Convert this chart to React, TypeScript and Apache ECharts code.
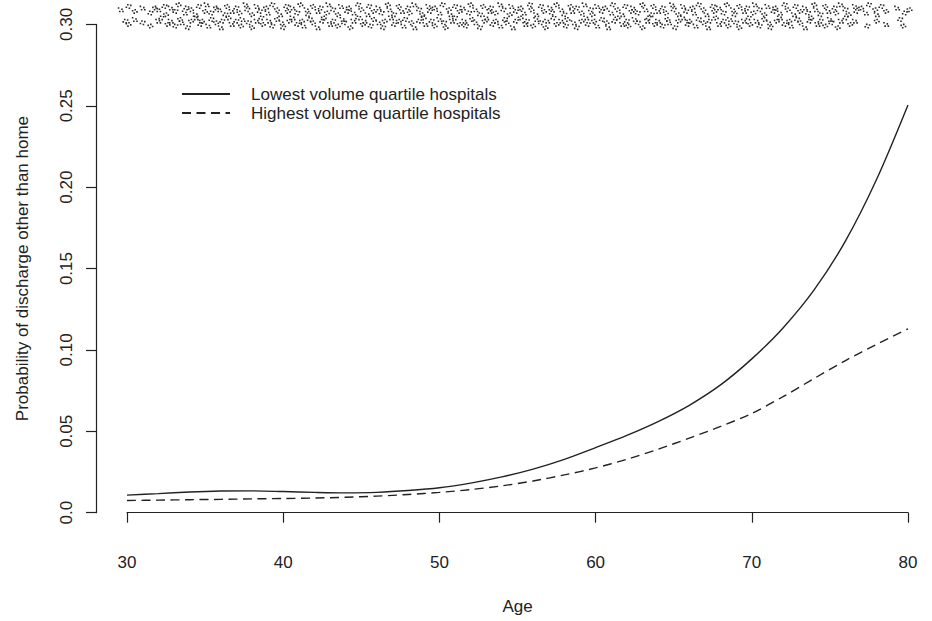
import React, { useEffect, useRef } from "react";
import * as echarts from "echarts";

const ages = [30, 32, 34, 36, 38, 40, 42, 44, 46, 48, 50, 52, 54, 56, 58, 60, 62, 64, 66, 68, 70, 72, 74, 76, 78, 80];
const lowestVolume = [0.0108, 0.0117, 0.0127, 0.0133, 0.0134, 0.013, 0.0125, 0.0122, 0.0125, 0.0136, 0.0153, 0.0182, 0.022, 0.0268, 0.0328, 0.04, 0.0475, 0.056, 0.066, 0.0785, 0.0945, 0.1135, 0.137, 0.167, 0.205, 0.2505];
const highestVolume = [0.0075, 0.0077, 0.008, 0.0082, 0.0085, 0.0087, 0.009, 0.0095, 0.0102, 0.0112, 0.0125, 0.0142, 0.0165, 0.0195, 0.0232, 0.0275, 0.0328, 0.039, 0.0458, 0.053, 0.061, 0.0713, 0.0825, 0.0935, 0.1035, 0.113];

const xTicks = [30, 40, 50, 60, 70, 80];
const yTickLabels = ["0.0", "0.05", "0.10", "0.15", "0.20", "0.25", "0.30"];
const seriesNames = ["Lowest volume quartile hospitals", "Highest volume quartile hospitals"];

// rug of observed ages (jittered), two rows at the top of the panel
const rugUpper: number[][] = [
  [29.6, 0.309], [30.1, 0.311], [30.5, 0.308], [31.0, 0.31], [31.5, 0.307], [31.8, 0.31], [32.0, 0.309], [32.4, 0.311],
  [32.5, 0.306], [32.8, 0.31], [33.1, 0.308], [33.3, 0.312], [33.7, 0.307], [33.8, 0.31], [34.1, 0.309], [34.4, 0.306],
  [34.6, 0.311], [35.0, 0.308], [35.1, 0.312], [35.4, 0.307], [35.7, 0.31], [35.9, 0.309], [36.3, 0.306], [36.4, 0.311],
  [36.7, 0.308], [37.0, 0.31], [37.2, 0.307], [37.6, 0.312], [37.7, 0.309], [38.0, 0.306], [38.3, 0.311], [38.5, 0.308],
  [38.9, 0.31], [39.0, 0.307], [39.3, 0.312], [39.6, 0.309], [39.8, 0.306], [40.2, 0.311], [40.3, 0.308], [40.6, 0.31],
  [40.9, 0.307], [41.1, 0.312], [41.5, 0.309], [41.6, 0.306], [41.9, 0.311], [42.2, 0.308], [42.4, 0.31], [42.8, 0.307],
  [42.9, 0.312], [43.2, 0.309], [43.5, 0.306], [43.7, 0.311], [44.1, 0.308], [44.2, 0.31], [44.5, 0.307], [44.8, 0.312],
  [45.0, 0.309], [45.4, 0.306], [45.5, 0.311], [45.8, 0.308], [46.1, 0.31], [46.3, 0.307], [46.7, 0.312], [46.8, 0.309],
  [47.1, 0.306], [47.4, 0.311], [47.6, 0.308], [48.0, 0.31], [48.1, 0.307], [48.4, 0.312], [48.7, 0.309], [48.9, 0.306],
  [49.3, 0.311], [49.4, 0.308], [49.7, 0.31], [50.0, 0.307], [50.2, 0.312], [50.6, 0.309], [50.7, 0.306], [51.0, 0.311],
  [51.3, 0.308], [51.5, 0.31], [51.9, 0.307], [52.0, 0.312], [52.3, 0.309], [52.6, 0.306], [52.8, 0.311], [53.2, 0.308],
  [53.3, 0.31], [53.6, 0.307], [53.9, 0.312], [54.1, 0.309], [54.5, 0.306], [54.6, 0.311], [54.9, 0.308], [55.2, 0.31],
  [55.4, 0.307], [55.8, 0.312], [55.9, 0.309], [56.2, 0.306], [56.5, 0.311], [56.7, 0.308], [57.1, 0.31], [57.2, 0.307],
  [57.5, 0.312], [57.8, 0.309], [58.0, 0.306], [58.4, 0.311], [58.5, 0.308], [58.8, 0.31], [59.1, 0.307], [59.3, 0.312],
  [59.7, 0.309], [59.8, 0.306], [60.1, 0.311], [60.4, 0.308], [60.6, 0.31], [61.0, 0.307], [61.1, 0.312], [61.4, 0.309],
  [61.7, 0.306], [61.9, 0.311], [62.3, 0.308], [62.4, 0.31], [62.7, 0.307], [63.0, 0.312], [63.2, 0.309], [63.6, 0.306],
  [63.7, 0.311], [64.0, 0.308], [64.3, 0.31], [64.5, 0.307], [64.9, 0.312], [65.0, 0.309], [65.3, 0.306], [65.6, 0.311],
  [65.8, 0.308], [66.2, 0.31], [66.3, 0.307], [66.6, 0.312], [66.9, 0.309], [67.1, 0.306], [67.5, 0.311], [67.6, 0.308],
  [67.9, 0.31], [68.2, 0.307], [68.4, 0.312], [68.8, 0.309], [68.9, 0.306], [69.2, 0.311], [69.5, 0.308], [69.7, 0.31],
  [70.1, 0.307], [70.2, 0.312], [70.5, 0.309], [70.8, 0.306], [71.0, 0.311], [71.4, 0.308], [71.5, 0.31], [71.8, 0.307],
  [72.1, 0.312], [72.3, 0.309], [72.7, 0.306], [72.8, 0.311], [73.1, 0.308], [73.4, 0.31], [73.6, 0.307], [74.0, 0.312],
  [74.1, 0.309], [74.4, 0.306], [74.7, 0.311], [74.9, 0.308], [75.3, 0.31], [75.4, 0.307], [75.7, 0.312], [76.0, 0.309],
  [76.2, 0.306], [76.6, 0.311], [76.7, 0.308], [77.0, 0.31], [77.3, 0.307], [77.5, 0.312], [77.9, 0.309], [78.0, 0.306],
  [78.3, 0.311], [78.6, 0.308], [79.3, 0.31], [79.8, 0.307], [80.1, 0.309]
];
const rugLower: number[][] = [
  [29.9, 0.302], [30.1, 0.3], [30.5, 0.303], [31.0, 0.301], [31.5, 0.299], [32.0, 0.302], [32.2, 0.304], [32.6, 0.3],
  [32.8, 0.302], [33.1, 0.299], [33.4, 0.303], [33.5, 0.301], [33.9, 0.298], [34.1, 0.302], [34.4, 0.304], [34.7, 0.3],
  [34.8, 0.302], [35.2, 0.299], [35.4, 0.303], [35.7, 0.301], [36.0, 0.298], [36.1, 0.302], [36.5, 0.304], [36.7, 0.3],
  [37.0, 0.302], [37.3, 0.299], [37.4, 0.303], [37.8, 0.301], [38.0, 0.298], [38.3, 0.302], [38.6, 0.304], [38.7, 0.3],
  [39.1, 0.302], [39.3, 0.299], [39.6, 0.303], [39.9, 0.301], [40.0, 0.298], [40.4, 0.302], [40.6, 0.304], [40.9, 0.3],
  [41.2, 0.302], [41.3, 0.299], [41.7, 0.303], [41.9, 0.301], [42.2, 0.298], [42.5, 0.302], [42.6, 0.304], [43.0, 0.3],
  [43.2, 0.302], [43.5, 0.299], [43.8, 0.303], [43.9, 0.301], [44.3, 0.298], [44.5, 0.302], [44.8, 0.304], [45.1, 0.3],
  [45.2, 0.302], [45.6, 0.299], [45.8, 0.303], [46.1, 0.301], [46.4, 0.298], [46.5, 0.302], [46.9, 0.304], [47.1, 0.3],
  [47.4, 0.302], [47.7, 0.299], [47.8, 0.303], [48.2, 0.301], [48.4, 0.298], [48.7, 0.302], [49.0, 0.304], [49.1, 0.3],
  [49.5, 0.302], [49.7, 0.299], [50.0, 0.303], [50.3, 0.301], [50.4, 0.298], [50.8, 0.302], [51.0, 0.304], [51.3, 0.3],
  [51.6, 0.302], [51.7, 0.299], [52.1, 0.303], [52.3, 0.301], [52.6, 0.298], [52.9, 0.302], [53.0, 0.304], [53.4, 0.3],
  [53.6, 0.302], [53.9, 0.299], [54.2, 0.303], [54.3, 0.301], [54.7, 0.298], [54.9, 0.302], [55.2, 0.304], [55.5, 0.3],
  [55.6, 0.302], [56.0, 0.299], [56.2, 0.303], [56.5, 0.301], [56.8, 0.298], [56.9, 0.302], [57.3, 0.304], [57.5, 0.3],
  [57.8, 0.302], [58.1, 0.299], [58.2, 0.303], [58.6, 0.301], [58.8, 0.298], [59.1, 0.302], [59.4, 0.304], [59.5, 0.3],
  [59.9, 0.302], [60.1, 0.299], [60.4, 0.303], [60.7, 0.301], [60.8, 0.298], [61.2, 0.302], [61.4, 0.304], [61.7, 0.3],
  [62.0, 0.302], [62.1, 0.299], [62.5, 0.303], [62.7, 0.301], [63.0, 0.298], [63.3, 0.302], [63.4, 0.304], [63.8, 0.3],
  [64.0, 0.302], [64.3, 0.299], [64.6, 0.303], [64.7, 0.301], [65.1, 0.298], [65.3, 0.302], [65.6, 0.304], [65.9, 0.3],
  [66.0, 0.302], [66.4, 0.299], [66.6, 0.303], [66.9, 0.301], [67.2, 0.298], [67.3, 0.302], [67.7, 0.304], [67.9, 0.3],
  [68.2, 0.302], [68.5, 0.299], [68.6, 0.303], [69.0, 0.301], [69.2, 0.298], [69.5, 0.302], [69.8, 0.304], [69.9, 0.3],
  [70.3, 0.302], [70.5, 0.299], [70.8, 0.303], [71.1, 0.301], [71.2, 0.298], [71.6, 0.302], [71.8, 0.304], [72.1, 0.3],
  [72.4, 0.302], [72.5, 0.299], [72.9, 0.303], [73.1, 0.301], [73.4, 0.298], [73.7, 0.302], [73.8, 0.304], [74.2, 0.3],
  [74.4, 0.302], [74.7, 0.299], [75.0, 0.303], [75.1, 0.301], [75.5, 0.298], [75.7, 0.302], [76.0, 0.304], [76.3, 0.3],
  [76.6, 0.302], [77.4, 0.299], [78.0, 0.302], [78.6, 0.3], [79.5, 0.303], [79.7, 0.299]
];

// small speckle marks used for the jittered rug points
const speckA = "path://M0,0h1.6v1.6h-1.6z M3.4,1.2h1.6v1.6h-1.6z M1.2,3.4h1.6v1.6h-1.6z M4.4,3.4h1.6v1.6h-1.6z";
const speckB = "path://M1.5,0h1.6v1.6h-1.6z M4.4,0.6h1.6v1.6h-1.6z M0,2.4h1.6v1.6h-1.6z M3,3.4h1.6v1.6h-1.6z";
const speckC = "path://M0,1h1.6v1.6h-1.6z M2.6,0h1.6v1.6h-1.6z M4.4,2.2h1.6v1.6h-1.6z M1.6,3.4h1.6v1.6h-1.6z";
const specks = [speckA, speckB, speckC];

const FONT = "'Liberation Sans', Arial, Helvetica, sans-serif";
const INK = "#222";

export default function App() {
  const ref = useRef<HTMLDivElement>(null);
  useEffect(() => {
    if (!ref.current) return;
    const chart = echarts.init(ref.current, undefined, { renderer: "svg" });
    const line = (vals: number[]) => ages.map((a, i) => [a, vals[i]]);
    const rug = (pts: number[][], shift: number) =>
      pts.map((p, i) => ({ value: p, symbol: specks[(i + shift) % 3] }));
    const rugSeries = (pts: number[][], shift: number) => ({
      type: "scatter",
      data: rug(pts, shift),
      symbolSize: [6, 5],
      clip: false,
      silent: true,
      itemStyle: { color: "#2a2a2a", opacity: 1 },
    });
    chart.setOption({
      animation: false,
      backgroundColor: "#fff",
      textStyle: { fontFamily: FONT, color: INK },
      grid: { left: 127, right: 24, top: 24.4, bottom: 108.3 },
      legend: {
        data: seriesNames,
        orient: "vertical",
        left: 181,
        top: 85.5,
        padding: 0,
        itemWidth: 48,
        itemHeight: 17,
        itemGap: 2,
        itemStyle: { opacity: 0, borderWidth: 0 },
        textStyle: { fontFamily: FONT, fontSize: 17, color: INK, padding: [0, 0, 0, 16] },
      },
      xAxis: {
        type: "value",
        min: 30,
        max: 80,
        interval: 10,
        offset: 19.3,
        name: "Age",
        nameLocation: "middle",
        nameGap: 66,
        nameTextStyle: { fontFamily: FONT, fontSize: 17, color: INK },
        axisLine: { show: true, lineStyle: { color: INK, width: 1.2 } },
        axisTick: { show: true, length: 10, lineStyle: { color: INK, width: 1.2 } },
        axisLabel: {
          fontFamily: FONT,
          fontSize: 17,
          color: INK,
          margin: 22,
          formatter: (v: number) => (xTicks.includes(Math.round(v)) ? String(Math.round(v)) : ""),
        },
        splitLine: { show: false },
      },
      yAxis: {
        type: "value",
        min: 0,
        max: 0.3,
        interval: 0.05,
        offset: 31,
        name: "Probability of discharge other than home",
        nameLocation: "middle",
        nameGap: 65,
        nameTextStyle: { fontFamily: FONT, fontSize: 17, color: INK },
        axisLine: { show: true, lineStyle: { color: INK, width: 1.2 } },
        axisTick: { show: true, length: 10, lineStyle: { color: INK, width: 1.2 } },
        axisLabel: {
          fontFamily: FONT,
          fontSize: 17,
          color: INK,
          rotate: 90,
          align: "center",
          verticalAlign: "bottom",
          margin: 21,
          formatter: (v: number) => yTickLabels[Math.round(v / 0.05)] ?? "",
        },
        splitLine: { show: false },
      },
      series: [
        {
          name: seriesNames[0],
          type: "line",
          data: line(lowestVolume),
          smooth: 0.3,
          symbol: "none",
          lineStyle: { color: INK, width: 1.4, type: "solid" },
          itemStyle: { color: INK },
        },
        {
          name: seriesNames[1],
          type: "line",
          data: line(highestVolume),
          smooth: 0.3,
          symbol: "none",
          lineStyle: { color: INK, width: 1.4, type: [9, 5.5] },
          itemStyle: { color: INK },
        },
        rugSeries(rugUpper, 0),
        rugSeries(rugLower, 1),
      ],
    });
    return () => chart.dispose();
  }, []);
  return <div ref={ref} style={{ width: 932, height: 621, position: "absolute", left: 0, top: 0 }} />;
}
